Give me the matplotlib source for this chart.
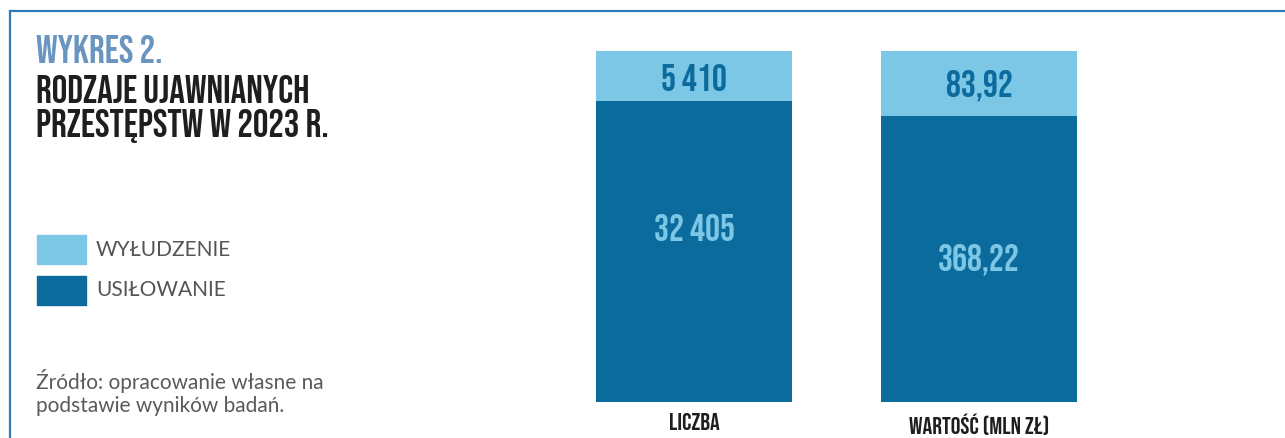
import matplotlib
matplotlib.use("Agg")
import matplotlib.pyplot as plt
import numpy as np
from matplotlib.patches import Rectangle
from matplotlib.lines import Line2D

categories = ["LICZBA", "WARTOŚĆ (MLN ZŁ)"]
series_names = ["WYŁUDZENIE", "USIŁOWANIE"]
wyludzenie = [5410, 83.92]
usilowanie = [32405, 368.22]
wyl_labels = ["5 410", "83,92"]
usil_labels = ["32 405", "368,22"]

LIGHT = "#7CC6E6"
DARK = "#0B6B9C"
FRAME = "#2F7AB4"
COND = ["Bebas Neue", "Barlow Condensed", "DejaVu Sans"]
LATO = ["Lato", "DejaVu Sans"]

W, H = 1285, 438
fig = plt.figure(figsize=(W / 100, H / 100), dpi=100)
fig.patch.set_facecolor("white")

def fx(px):
    return px / W

def fy(py):
    return 1 - py / H

# frame
fig.add_artist(Line2D([fx(9.5), 1.0], [fy(11), fy(11)], color=FRAME, lw=1.6))
fig.add_artist(Line2D([fx(9.5), fx(9.5)], [fy(11), 0.0], color=FRAME, lw=1.6))

# title
TS = 28
fig.text(fx(36), fy(63), "WYKRES 2.", family=COND, weight=600, fontsize=TS,
         color="#6A95C0", va="baseline", ha="left")
fig.text(fx(36), fy(103), "RODZAJE UJAWNIANYCH", family=COND, weight=600, fontsize=TS,
         color="#1E1E1E", va="baseline", ha="left")
fig.text(fx(36), fy(137), "PRZESTĘPSTW W 2023 R.", family=COND, weight=600, fontsize=TS,
         color="#1E1E1E", va="baseline", ha="left")

# legend
legend_colors = [LIGHT, DARK]
legend_tops = [235, 276]
for name, col, top in zip(series_names, legend_colors, legend_tops):
    fig.add_artist(Rectangle((fx(37), fy(top + 29)), fx(49), 29 / H, color=col,
                             transform=fig.transFigure))
    fig.text(fx(96), fy(top + 14.5), name, family=LATO, weight="normal",
             fontsize=15, color="#555555", va="center", ha="left")

# source
fig.text(fx(36), fy(381), "Źródło: opracowanie własne na", family=LATO,
         weight="normal", fontsize=15, color="#5A5A5A", va="center", ha="left")
fig.text(fx(36), fy(406), "podstawie wyników badań.", family=LATO,
         weight="normal", fontsize=15, color="#5A5A5A", va="center", ha="left")

# bars (100% stacked)
ax = fig.add_axes([fx(596), fy(402), fx(1077 - 596), 351 / H])
x = np.arange(len(categories))
wyl = np.array(wyludzenie, dtype=float)
usi = np.array(usilowanie, dtype=float)
tot = wyl + usi
usi_pct = usi / tot * 100
wyl_pct = wyl / tot * 100
width = 0.688
ax.bar(x, usi_pct, width, color=DARK)
ax.bar(x, wyl_pct, width, bottom=usi_pct, color=LIGHT)
ax.set_xlim(-width / 2, 1 + width / 2)
ax.set_ylim(0, 100)

label_shift = [7, 0]
for i in range(len(categories)):
    ax.text(x[i], usi_pct[i] + wyl_pct[i] / 2 - 0.4, wyl_labels[i], family=COND, weight=600,
            fontsize=27, color=DARK, ha="center", va="center")
    ax.text(x[i], usi_pct[i] / 2 + label_shift[i], usil_labels[i], family=COND, weight=600,
            fontsize=27, color=LIGHT, ha="center", va="center")

ax.set_xticks(x)
ax.set_xticklabels(categories, family=COND, weight=600, fontsize=17.5, color="#1E1E1E")
ax.tick_params(axis="x", length=0, pad=8)
ax.set_yticks([])
for s in ax.spines.values():
    s.set_visible(False)

fig.savefig("out.png", dpi=100, facecolor="white")
